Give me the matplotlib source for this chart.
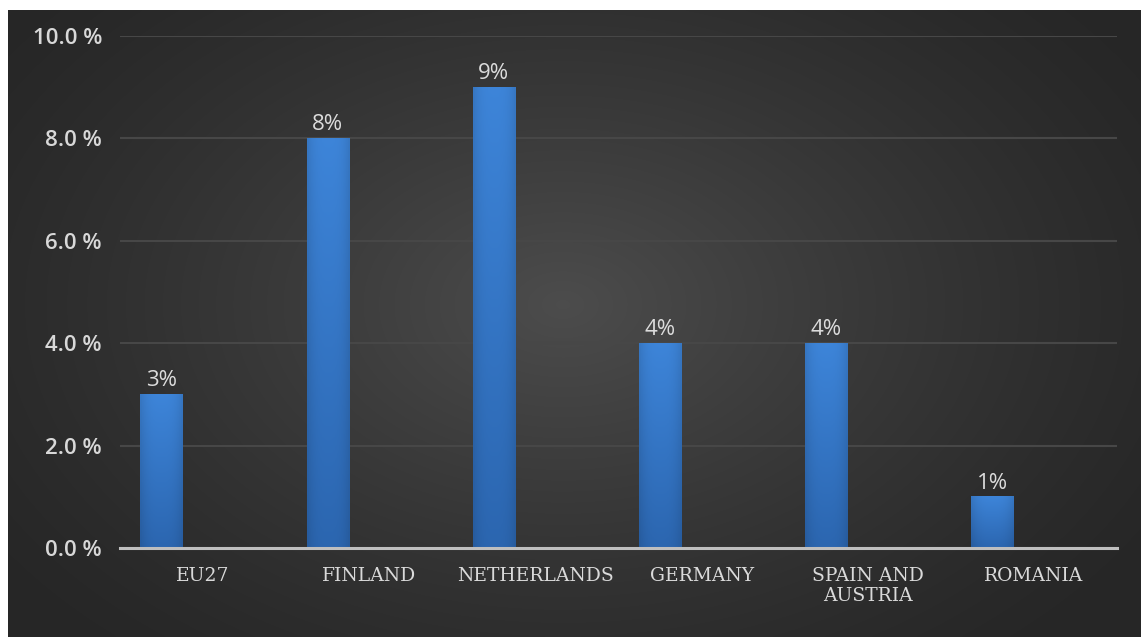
import matplotlib
matplotlib.use("Agg")
import matplotlib.pyplot as plt
import numpy as np
from matplotlib.ticker import FuncFormatter

# share of total, in percent
countries = ["EU27", "FINLAND", "NETHERLANDS", "GERMANY", "SPAIN AND\nAUSTRIA", "ROMANIA"]
shares = [3, 8, 9, 4, 4, 1]
yticks = [0, 2, 4, 6, 8, 10]

W, H = 1141, 637
fig = plt.figure(figsize=(W / 100, H / 100), dpi=100, facecolor="white")

# dark panel with a soft radial glow
bg = fig.add_axes([8 / W, 0, 1 - 8 / W, 1 - 10 / H])
bg.set_axis_off()
gx, gy = np.meshgrid(np.linspace(0, 1, 600), np.linspace(0, 1, 340))
r = np.sqrt(((gx - 0.49) / 0.62) ** 2 + ((gy - 0.47) / 0.75) ** 2)
glow = np.clip(1 - r, 0, 1) ** 1.3
shade = 0.15 + 0.15 * glow
bg.imshow(np.dstack([shade, shade, shade]), aspect="auto", extent=[0, 1, 0, 1], interpolation="bilinear")
bg.set_xlim(0, 1)
bg.set_ylim(0, 1)

ax = fig.add_axes([120 / W, 89 / H, (1117 - 120) / W, (548 - 36) / H])
ax.patch.set_alpha(0)

x = np.arange(len(countries))
bars = ax.bar(x - 0.25, shares, width=0.255, color="#3478c8", zorder=3)

# vertical gradient inside every bar
grad = np.linspace(0, 1, 100).reshape(-1, 1)
top = np.array([0.24, 0.52, 0.85])
bot = np.array([0.17, 0.40, 0.69])
cols = bot + (top - bot) * grad[..., None]
cols = np.repeat(cols, 20, axis=1)
edge = 1 - 0.10 * np.abs(np.linspace(-1, 1, 20)) ** 3
cols = cols * edge[None, :, None]
for b in bars:
    x0, w, h = b.get_x(), b.get_width(), b.get_height()
    ax.imshow(cols, extent=[x0, x0 + w, 0, h], origin="lower", aspect="auto", zorder=4)
    ax.text(x0 + w / 2, h + 0.06, f"{h:.0f}%", ha="center", va="bottom",
            color="#dcdcdc", fontsize=16, family="Open Sans", zorder=5)

ax.set_xlim(-0.5, len(countries) - 0.5)
ax.set_ylim(0, 10)
ax.set_yticks(yticks)
ax.yaxis.set_major_formatter(FuncFormatter(lambda v, p: f"{v:.1f} %"))
ax.grid(axis="y", color="#474747", linewidth=1.5, zorder=1)
ax.set_xticks(x)
ax.set_xticklabels(countries, family="DejaVu Serif", fontsize=13.5, color="#dadada", linespacing=1.1)
for lab in ax.get_yticklabels():
    lab.set_family("Open Sans")
    lab.set_fontsize(16)
    lab.set_fontweight("semibold")
    lab.set_color("#d8d8d8")
ax.tick_params(axis="x", length=0, pad=14)
ax.tick_params(axis="y", length=0, pad=13)
for s in ["top", "right", "left"]:
    ax.spines[s].set_visible(False)
ax.spines["bottom"].set_color("#bfbfbf")
ax.spines["bottom"].set_linewidth(2.2)
ax.spines["bottom"].set_zorder(6)

fig.savefig("out.png", dpi=100, facecolor="white")
